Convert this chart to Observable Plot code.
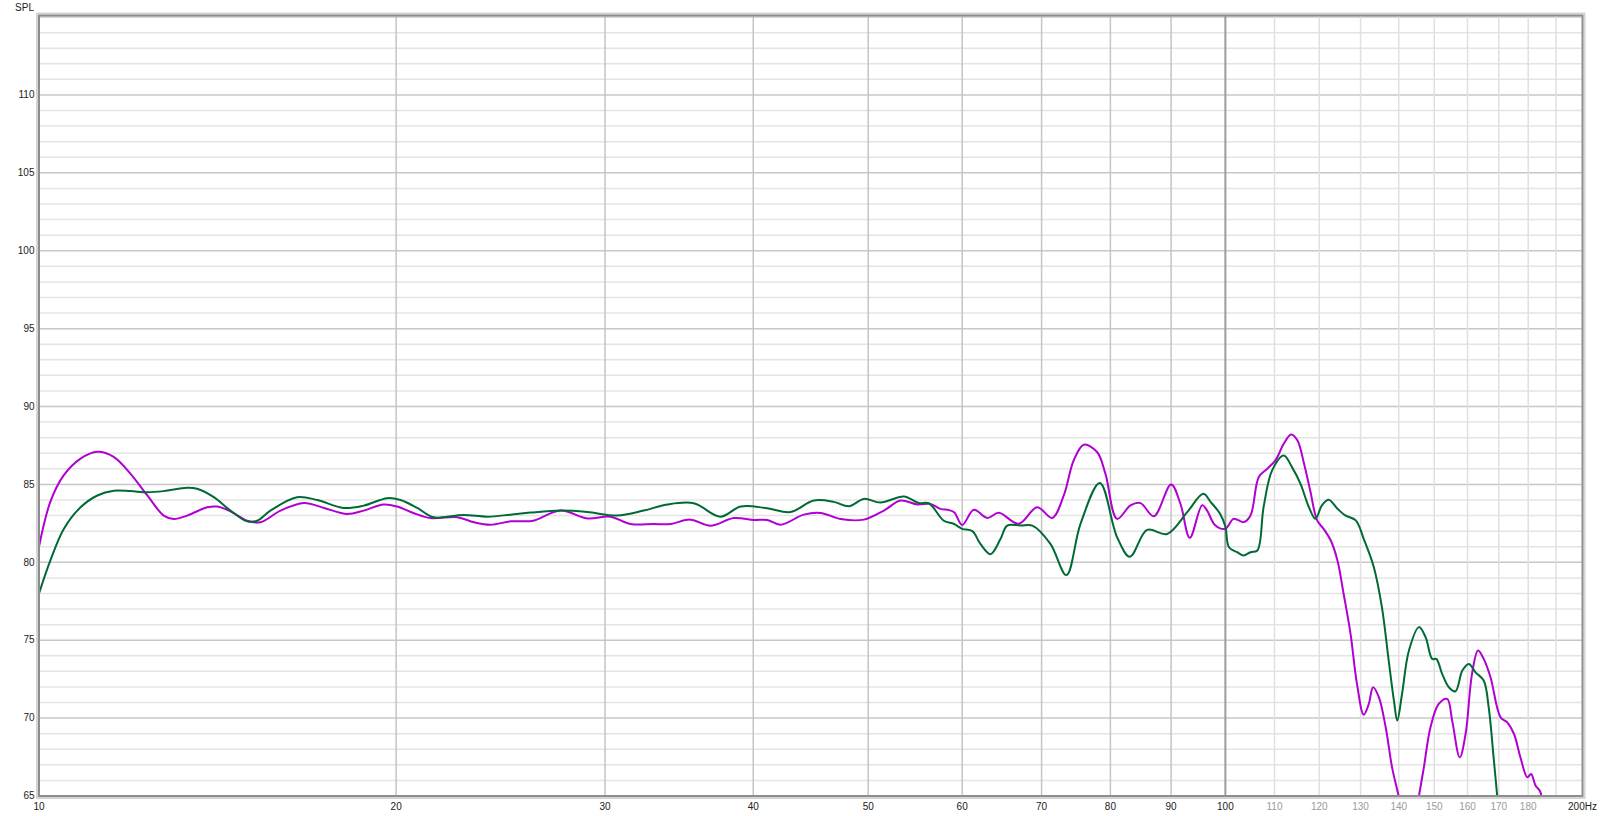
<!DOCTYPE html>
<html>
<head>
<meta charset="utf-8">
<script src="https://cdn.jsdelivr.net/npm/d3@7"></script>
<script src="https://cdn.jsdelivr.net/npm/@observablehq/plot@0.6"></script>
<style>
  html, body { margin: 0; padding: 0; background: #fff; }
  #chart { width: 1600px; height: 816px; }
</style>
</head>
<body>
<div id="chart"></div>
<script>
// ---- Data ----
// Magenta trace
const freqMagenta = [10, 10.22, 10.49, 10.84, 11.2, 11.56, 11.94, 12.34, 12.74, 12.99, 13.33, 13.86, 14.13, 14.5, 14.98, 15.37, 15.98, 16.72, 17.39, 18.18, 18.78, 19.52, 20.04, 20.7, 21.38, 22.52, 23.26, 24.02, 24.97, 25.5, 26.1, 27.52, 28.98, 30.31, 31.52, 32.98, 34.06, 35.41, 36.81, 38.52, 40.04, 41.1, 42.17, 44.12, 45.57, 47.38, 49.58, 51.54, 53.24, 54.99, 56.42, 57.53, 58.5, 59.1, 60, 61.38, 62.99, 64.42, 66.97, 69.4, 71.45, 73.08, 74.51, 75.98, 77.96, 79.23, 81.05, 83.18, 84.81, 87.04, 90, 91.65, 93.33, 95.6, 96.5, 98.0, 100, 101.6, 103.6, 105.0, 106.7, 108.45, 110.2, 112.0, 113.6, 115.0, 116.5, 117.9, 119.5, 121.0, 122.7, 124.3, 125.8, 127.5, 129.1, 130.8, 132.1, 133.2, 134.7, 136.5, 138.2, 140, 142.8, 145.6, 147.0, 148.9, 151.3, 153.8, 155.3, 157.6, 159.4, 161.4, 163.3, 165.1, 167.3, 170.6, 172.8, 175.1, 177.3, 179.7, 181.0, 182.6, 184.1, 185];
const splMagenta  = [81.0, 83.86, 85.58, 86.66, 87.1, 86.77, 85.69, 84.29, 83.0, 82.78, 83.0, 83.53, 83.58, 83.28, 82.67, 82.57, 83.32, 83.81, 83.49, 83.1, 83.32, 83.71, 83.58, 83.15, 82.84, 82.9, 82.57, 82.41, 82.63, 82.63, 82.67, 83.32, 82.82, 82.93, 82.46, 82.46, 82.46, 82.74, 82.35, 82.84, 82.72, 82.72, 82.41, 83.06, 83.17, 82.78, 82.74, 83.32, 83.97, 83.71, 83.75, 83.43, 83.35, 83.2, 82.4, 83.37, 82.85, 83.18, 82.47, 83.54, 82.85, 84.29, 86.55, 87.55, 87.08, 85.69, 82.79, 83.65, 83.8, 82.96, 85.0, 83.76, 81.57, 83.67, 83.33, 82.4, 82.15, 82.79, 82.58, 83.01, 85.47, 86.0, 86.54, 87.61, 88.21, 87.83, 86.33, 84.61, 82.69, 82.15, 81.4, 80.12, 77.98, 75.41, 72.2, 70.22, 70.91, 71.98, 71.34, 69.41, 66.84, 64.96, 61.5, 65.0, 66.84, 69.41, 70.91, 71.23, 69.84, 67.48, 68.98, 72.84, 74.34, 73.8, 72.62, 70.05, 69.73, 68.98, 67.48, 66.2, 66.41, 65.66, 65.34, 64.7];

// Green trace
const freqGreen = [10, 10.22, 10.49, 10.84, 11.2, 11.56, 11.94, 12.34, 12.74, 13.33, 13.59, 14.04, 14.5, 14.98, 15.27, 15.67, 16.5, 17.16, 18.06, 18.78, 19.66, 20.17, 20.84, 21.51, 22.8, 23.87, 24.97, 25.96, 27.52, 28.98, 30.71, 32.34, 33.84, 35.64, 37.53, 39.03, 41.1, 43.0, 44.99, 46.77, 48.16, 49.58, 51.21, 53.58, 55.15, 56.24, 57.9, 59.06, 60, 61.2, 62.18, 63.39, 64.63, 65.48, 67.2, 68.76, 71.21, 73.45, 75.49, 78.38, 81.05, 83.08, 85.91, 89.31, 92.86, 95.79, 97.2, 99.0, 100, 100.7, 102.3, 103.6, 105.0, 106.4, 107.7, 109.5, 112.0, 113.8, 115.7, 117.6, 119.1, 120.6, 122.2, 124.3, 126.2, 128.8, 130.8, 133.4, 135.5, 137.3, 138.7, 139.6, 140.9, 142.8, 145.6, 147.5, 149.4, 150.6, 152.3, 154.3, 156.3, 158.4, 160.4, 162.5, 165.1, 166.7, 168.4, 169.5, 170.5];
const splGreen  = [78.0, 80.09, 82.13, 83.53, 84.29, 84.59, 84.57, 84.5, 84.57, 84.78, 84.72, 84.18, 83.32, 82.63, 82.67, 83.32, 84.18, 84.0, 83.49, 83.64, 84.12, 84.0, 83.49, 82.89, 83.04, 82.93, 83.06, 83.19, 83.32, 83.23, 83.0, 83.32, 83.71, 83.79, 82.93, 83.58, 83.47, 83.23, 83.97, 83.88, 83.6, 84.07, 83.84, 84.22, 83.81, 83.79, 82.67, 82.46, 82.15, 82.0, 81.16, 80.52, 81.49, 82.36, 82.36, 82.36, 81.18, 79.18, 82.47, 85.09, 81.61, 80.36, 82.08, 81.82, 83.22, 84.4, 83.87, 83.1, 82.3, 80.97, 80.65, 80.44, 80.65, 80.76, 83.54, 85.9, 86.86, 86.11, 85.04, 83.54, 82.79, 83.65, 84.01, 83.44, 83.01, 82.69, 81.51, 79.69, 77.12, 73.69, 71.12, 69.84, 71.55, 74.34, 75.84, 75.19, 73.8, 73.8, 72.84, 71.98, 71.72, 73.05, 73.48, 72.94, 72.41, 70.7, 67.27, 64.96, 62.5];

// Axis ticks and grid
const yTickLabels = [65, 70, 75, 80, 85, 90, 95, 100, 105, 110];
const yMajorGrid = [65, 70, 75, 80, 85, 90, 95, 100, 105, 110, 115];
const yMinorGrid = d3.range(66, 116).filter(v => v % 5 !== 0);
const xMajorGrid = [20, 30, 40, 50, 60, 70, 80, 90];
const xDecadeGrid = [100];
const xMinorGrid = [110, 120, 130, 140, 150, 160, 170, 180, 190];
const xTickLabelsDark = [10, 20, 30, 40, 50, 60, 70, 80, 90, 100, 200];
const xTickLabelsLight = [110, 120, 130, 140, 150, 160, 170, 180];
const yAxisTitle = "SPL";
const xUnit = "Hz";

const magenta = freqMagenta.map((f, i) => ({f, spl: splMagenta[i]}));
const green = freqGreen.map((f, i) => ({f, spl: splGreen[i]}));

const chart = Plot.plot({
  width: 1600,
  height: 816,
  marginLeft: 38.5,
  marginRight: 18,
  marginTop: 15,
  marginBottom: 20.5,
  x: {type: "log", domain: [10, 200]},
  y: {domain: [65, 115.1]},
  style: {fontFamily: "'Liberation Sans', Arial, sans-serif", fontSize: "10px", background: "#fff", color: "#222"},
  marks: [
    Plot.ruleY(yMinorGrid, {stroke: "#e4e4e4", strokeWidth: 1.5}),
    Plot.ruleY(yMajorGrid, {stroke: "#c8c8c8", strokeWidth: 1.5}),
    Plot.ruleX(xMinorGrid, {stroke: "#e0e0e0", strokeWidth: 1.5}),
    Plot.ruleX(xMajorGrid, {stroke: "#c4c4c4", strokeWidth: 1.5}),
    Plot.ruleX(xDecadeGrid, {stroke: "#9c9c9c", strokeWidth: 2}),
    Plot.line(magenta, {x: "f", y: "spl", stroke: "#b000d2", strokeWidth: 2, curve: "catmull-rom", clip: true}),
    Plot.line(green, {x: "f", y: "spl", stroke: "#006a35", strokeWidth: 2, curve: "catmull-rom", clip: true}),
    Plot.frame({stroke: "#d4d4d4", strokeWidth: 2, inset: -2}),
    Plot.frame({stroke: "#8e8e8e", strokeWidth: 2}),
    Plot.axisY(yTickLabels, {tickSize: 0, tickPadding: 4.5, label: null, color: "#222", fill: "#222"}),
    Plot.axisX(xTickLabelsDark, {tickSize: 0, tickPadding: 7, label: null, color: "#222", fill: "#222",
      tickFormat: d => d === 200 ? d + xUnit : String(d)}),
    Plot.axisX(xTickLabelsLight, {tickSize: 0, tickPadding: 7, label: null, color: "#9a9a9a", fill: "#9a9a9a",
      tickFormat: d => String(d)}),
    Plot.text([yAxisTitle], {text: d => d, frameAnchor: "top-left", dx: -5, dy: -8, textAnchor: "end", lineAnchor: "middle", fill: "#222"})
  ]
});
document.getElementById("chart").appendChild(chart);
</script>
</body>
</html>
